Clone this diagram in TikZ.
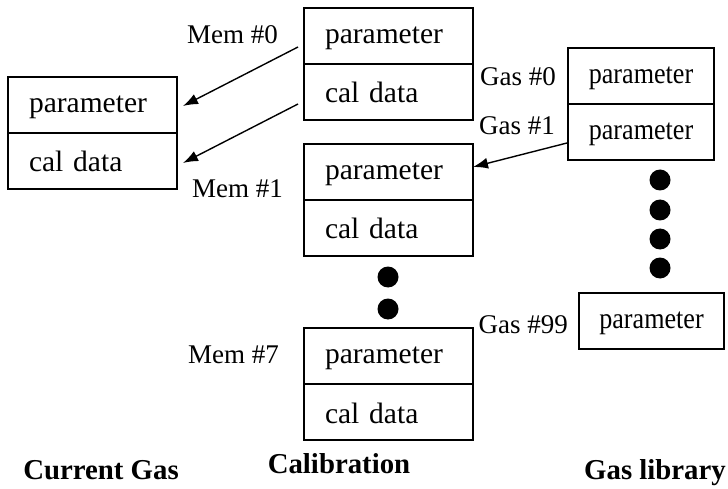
\documentclass[tikz,border=0pt]{standalone}
\usepackage{fontspec}
\setmainfont{Liberation Serif}
\usetikzlibrary{arrows.meta}
\tikzset{
  cell/.style={draw, line width=1.4pt, outer sep=0pt, minimum height=56pt, inner ysep=0pt,
    inner xsep=21pt, text width=127pt, align=left, font=\fontsize{29.5}{31}\selectfont,
    text height=20pt, text depth=5pt},
  cellbot/.style={cell, text height=22pt, text depth=0pt},
  gcell/.style={draw, line width=1.4pt, outer sep=0pt, minimum height=56pt, inner sep=0pt,
    font=\fontsize{29.5}{31}\selectfont, text height=20pt, text depth=5pt},
  lbl/.style={font=\fontsize{27}{29}\selectfont, inner sep=0pt},
  ttl/.style={font=\bfseries\fontsize{28.8}{30}\selectfont, anchor=base, inner sep=0pt},
  bigdot/.style={circle, fill=black, minimum size=21pt, inner sep=0pt},
  arr/.style={line width=1.4pt, -{Latex[length=15pt,width=11pt]}},
  divider/.style={line width=2.8pt}
}
\newcommand{\condensed}[1]{\scalebox{0.885}[1]{#1}}
\begin{document}
\begin{tikzpicture}[x=1pt,y=1pt]
\useasboundingbox (0,0) rectangle (728,-489);
% Current Gas
\node[cell] (cgp) at (92.5,-105) {parameter};
\node[cellbot] (cgc) at (92.5,-161) {cal data};
% Calibration memories
\node[cell] (m0p) at (388.5,-36) {parameter};
\node[cellbot] (m0c) at (388.5,-92) {cal data};
\node[cell] (m1p) at (388.5,-172) {parameter};
\node[cellbot] (m1c) at (388.5,-228) {cal data};
\node[cell] (m7p) at (388.5,-356) {parameter};
\node[cellbot] (m7c) at (388.5,-412) {cal data};
% Gas library
\node[gcell, minimum width=146pt] (g0) at (641,-76) {\condensed{parameter}};
\node[gcell, minimum width=146pt] (g1) at (641,-132) {\condensed{parameter}};
\node[gcell, minimum width=145pt] (g99) at (651.5,-321) {\condensed{parameter}};
% dividers
\foreach \n in {cgp,m0p,m1p,m7p,g0}{
  \draw[divider] (\n.south west) -- (\n.south east);
}
% dots
\node[bigdot] (d1) at (388,-277) {};
\node[bigdot] (d2) at (388,-309) {};
\node[bigdot] (e1) at (660,-180) {};
\node[bigdot] (e2) at (660,-210) {};
\node[bigdot] (e3) at (660,-239) {};
\node[bigdot] (e4) at (660,-268) {};
% labels
\node[lbl, anchor=base] (l0) at (232.5,-44) {Mem \#0};
\node[lbl, anchor=base] (l1) at (237.5,-198) {Mem \#1};
\node[lbl, anchor=base] (l7) at (233.5,-363) {Mem \#7};
\node[lbl, anchor=base east] (lg0) at (556,-86) {Gas \#0};
\node[lbl, anchor=base east] (lg1) at (555,-135) {Gas \#1};
\node[lbl, anchor=base east] (lg99) at (568,-333) {Gas \#99};
% titles
\node[ttl] (t1) at (101,-479) {Current Gas};
\node[ttl] (t2) at (339,-473) {Calibration};
\node[ttl] (t3) at (655,-479) {Gas library};
% arrows
\draw[arr] ([shift={(-6pt,-11pt)}]m0p.west) -- ([xshift=6pt,yshift=-1pt]cgp.east);
\draw[arr] ([shift={(-6pt,-12pt)}]m0c.west) -- ([xshift=6pt,yshift=-2pt]cgc.east);
\draw[arr] ([shift={(-1pt,-11pt)}]g1.west) -- ([xshift=0pt,yshift=5pt]m1p.east);
\end{tikzpicture}
\end{document}
